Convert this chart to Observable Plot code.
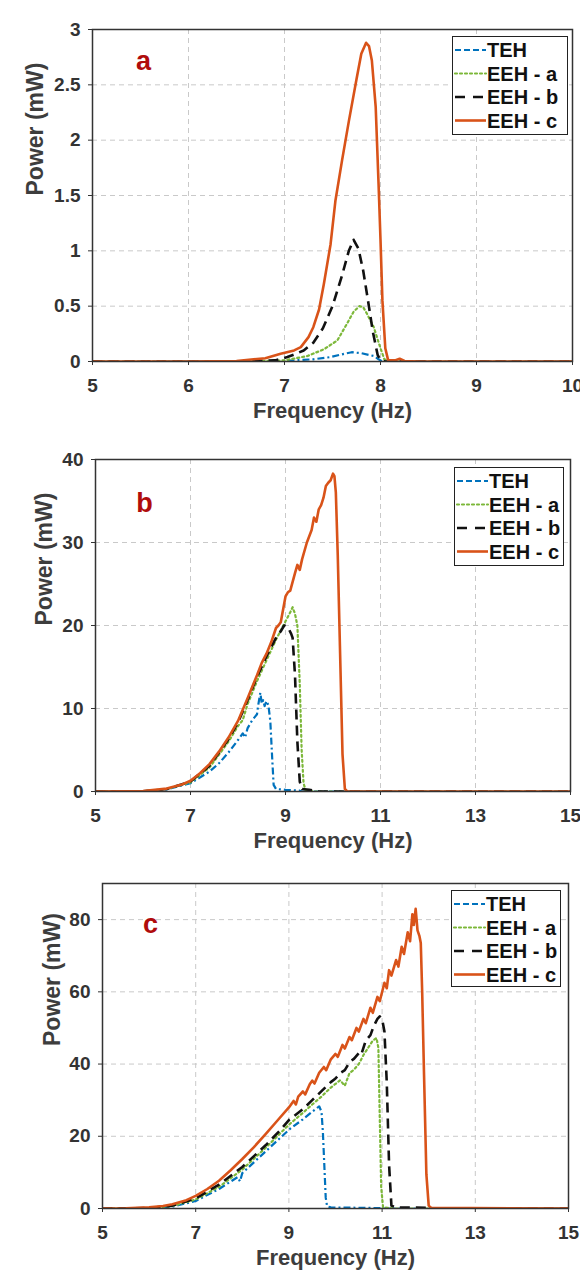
<!DOCTYPE html>
<html>
<head>
<meta charset="utf-8">
<script src="https://cdn.jsdelivr.net/npm/d3@7"></script>
<script src="https://cdn.jsdelivr.net/npm/@observablehq/plot@0.6"></script>
<style>
  body { margin: 0; background: #fff; font-family: "Liberation Sans", Arial, sans-serif; }
  #wrap { position: relative; width: 580px; height: 1279px; overflow: hidden; background: #fff; }
  .panel { position: absolute; left: 0; width: 580px; }
  .panel svg { display: block; }
  .legend { position: absolute; box-sizing: border-box; border: 1.6px solid #222; background: #fff; }
  .legend svg { display: block; }
  .shot { position: absolute; left: 23px; top: 5px; width: 557px; height: 420px; border-top: 1px solid #e4e4e4; border-left: 1px solid #e9e9e9; }
</style>
</head>
<body>
<div id="wrap"></div>
<script>
// ---------- series definitions ----------
const seriesNames = ["TEH", "EEH - a", "EEH - b", "EEH - c"];
const seriesColors = ["#0072BD", "#7DB83A", "#111111", "#D95319"];
const seriesDash = ["7,3,2,3", "2,3", "10,6", null];
const seriesWidth = [2.2, 2.2, 2.6, 2.6];

// ---------- panel a ----------
const aXTicks = [5, 6, 7, 8, 9, 10];
const aYTicks = [0, 0.5, 1, 1.5, 2, 2.5, 3];
const aTEH_f = [5, 6.5, 7.0, 7.3, 7.48, 7.6, 7.7, 7.8, 7.93, 7.98, 8.02, 10];
const aTEH_p = [0, 0, 0.005, 0.02, 0.04, 0.065, 0.084, 0.075, 0.05, 0.02, 0, 0];
const aEEHa_f = [5, 6.5, 7.0, 7.24, 7.41, 7.55, 7.65, 7.72, 7.78, 7.82, 7.86, 7.93, 7.97, 8.0, 8.04, 8.1, 10];
const aEEHa_p = [0, 0, 0.01, 0.05, 0.11, 0.19, 0.34, 0.45, 0.50, 0.49, 0.43, 0.31, 0.2, 0.12, 0.02, 0, 0];
const aEEHb_f = [5, 6.5, 6.9, 7.03, 7.12, 7.2, 7.3, 7.4, 7.5, 7.6, 7.67, 7.72, 7.77, 7.82, 7.87, 7.92, 7.97, 8.0, 8.05, 10];
const aEEHb_p = [0, 0, 0.01, 0.04, 0.07, 0.1, 0.17, 0.3, 0.5, 0.78, 1.0, 1.1, 1.02, 0.82, 0.55, 0.27, 0.06, 0.01, 0, 0];
const aEEHc_f = [5, 6, 6.5, 6.8, 6.96, 7.1, 7.17, 7.25, 7.3, 7.36, 7.41, 7.48, 7.53, 7.6, 7.67, 7.75, 7.8, 7.85, 7.88, 7.91, 7.95, 7.98, 8.0, 8.02, 8.05, 8.08, 8.15, 8.2, 8.25, 8.4, 10];
const aEEHc_p = [0, 0, 0.005, 0.03, 0.07, 0.1, 0.13, 0.22, 0.31, 0.47, 0.7, 1.06, 1.45, 1.82, 2.17, 2.55, 2.78, 2.88, 2.85, 2.72, 2.3, 1.6, 1.1, 0.55, 0.12, 0.01, 0.01, 0.025, 0.005, 0, 0];

// ---------- panel b ----------
const bXTicks = [5, 7, 9, 11, 13, 15];
const bYTicks = [0, 10, 20, 30, 40];
const bTEH_f = [5, 6, 6.5, 7.0, 7.4, 7.6, 7.8, 8.0, 8.1, 8.15, 8.2, 8.3, 8.4, 8.42, 8.47, 8.5, 8.53, 8.56, 8.6, 8.64, 8.68, 8.72, 8.75, 8.8, 9.0, 9.3, 9.35, 15];
const bTEH_p = [0, 0.02, 0.25, 1.0, 2.4, 3.4, 4.7, 6.2, 7.0, 6.5, 7.6, 8.6, 9.3, 10.2, 11.9, 10.6, 11.0, 10.3, 10.9, 10.4, 8.5, 4, 0.8, 0.3, 0.2, 0.1, 0, 0];
const bEEHa_f = [5, 6, 6.5, 7.0, 7.4, 7.8, 8.0, 8.1, 8.2, 8.4, 8.6, 8.8, 9.0, 9.1, 9.15, 9.2, 9.25, 9.3, 9.34, 9.38, 9.42, 9.6, 15];
const bEEHa_p = [0, 0.03, 0.3, 1.1, 2.9, 6.0, 7.9, 8.6, 10.5, 13.3, 15.8, 18.3, 20.5, 21.6, 22.2, 21.4, 20, 13, 5, 1, 0.2, 0, 0];
const bEEHb_f = [5, 6, 6.5, 7.0, 7.4, 7.8, 8.0, 8.2, 8.4, 8.6, 8.8, 8.9, 8.97, 9.05, 9.12, 9.15, 9.2, 9.25, 9.3, 9.35, 9.5, 9.7, 15];
const bEEHb_p = [0, 0.03, 0.3, 1.2, 3.1, 6.3, 8.3, 11, 13.8, 16.3, 18.5, 19.3, 20.0, 19.8, 19, 18.5, 14, 6, 1.2, 0.3, 0.2, 0, 0];
const bEEHc_f = [5, 6, 6.5, 6.8, 7.0, 7.2, 7.4, 7.6, 7.8, 8.0, 8.2, 8.4, 8.5, 8.6, 8.7, 8.8, 8.85, 8.9, 9.0, 9.05, 9.1, 9.2, 9.25, 9.3, 9.35, 9.45, 9.55, 9.6, 9.65, 9.7, 9.75, 9.8, 9.85, 9.9, 9.95, 10.0, 10.03, 10.06, 10.1, 10.15, 10.2, 10.25, 10.3, 15];
const bEEHc_p = [0, 0.05, 0.35, 0.8, 1.3, 2.2, 3.3, 4.8, 6.5, 8.5, 11.2, 14, 15.5, 16.6, 18, 19.7, 20, 20.4, 23.5, 24, 24.2, 26.3, 27.3, 26.7, 28, 30, 31.5, 33, 32.5, 34, 34.5, 35.4, 36.8, 37.2, 37.5, 38.3, 38, 36, 28.5, 16.5, 4.5, 0.3, 0, 0];

// ---------- panel c ----------
const cXTicks = [5, 7, 9, 11, 13, 15];
const cYTicks = [0, 20, 40, 60, 80];
const cTEH_f = [5, 6, 6.5, 7.0, 7.5, 7.9, 7.95, 8.0, 8.5, 9.0, 9.3, 9.5, 9.6, 9.65, 9.7, 9.73, 9.76, 9.79, 9.82, 9.9, 10.5, 11.0, 11.05, 15];
const cTEH_p = [0, 0.05, 0.5, 2.1, 5.4, 8.7, 7.5, 9.8, 15.8, 21.8, 24.7, 26.8, 27.8, 28.3, 26.8, 21, 12, 3, 0.6, 0.3, 0.2, 0.1, 0, 0];
const cEEHa_f = [5, 6, 6.5, 7.0, 7.5, 8.0, 8.5, 9.0, 9.3, 9.5, 9.7, 9.9, 10.0, 10.1, 10.2, 10.3, 10.4, 10.5, 10.6, 10.7, 10.8, 10.88, 10.92, 10.95, 10.98, 11.02, 11.1, 11.3, 15];
const cEEHa_p = [0, 0.1, 0.7, 2.5, 6, 10.8, 16.8, 23.2, 26.5, 28.8, 31, 33.5, 34.5, 35.5, 34, 37.5, 38.5, 40, 42.5, 44.5, 46.5, 47.2, 44.5, 25, 6, 0.4, 0.2, 0, 0];
const cEEHb_f = [5, 6, 6.5, 7.0, 7.5, 8.0, 8.5, 8.8, 9.0, 9.3, 9.5, 9.7, 9.9, 10.0, 10.1, 10.2, 10.3, 10.4, 10.5, 10.55, 10.65, 10.75, 10.82, 10.9, 10.95, 11.0, 11.05, 11.1, 11.15, 11.2, 11.3, 12.0, 12.05, 15];
const cEEHb_p = [0, 0.1, 0.8, 2.8, 6.6, 11.5, 17.5, 21.5, 24.5, 27.5, 30, 32.5, 35, 36, 37.5, 38.3, 40.5, 41.5, 43, 42.5, 46.5, 48, 50.5, 52.5, 53.2, 52.5, 49, 35, 12, 0.8, 0.3, 0.2, 0, 0];
const cEEHc_f = [5, 5.5, 6.0, 6.3, 6.5, 6.8, 7.0, 7.25, 7.5, 7.75, 8.0, 8.25, 8.5, 8.75, 9.0, 9.1, 9.15, 9.2, 9.3, 9.35, 9.45, 9.5, 9.55, 9.65, 9.75, 9.8, 9.9, 10.0, 10.05, 10.15, 10.2, 10.3, 10.35, 10.45, 10.5, 10.6, 10.65, 10.75, 10.8, 10.9, 10.95, 11.05, 11.1, 11.15, 11.2, 11.3, 11.35, 11.42, 11.47, 11.55, 11.6, 11.65, 11.68, 11.72, 11.76, 11.8, 11.83, 11.86, 11.9, 11.95, 12.0, 12.05, 15];
const cEEHc_p = [0, 0.05, 0.3, 0.7, 1.2, 2.3, 3.5, 5.4, 7.7, 10.6, 13.7, 17, 20.6, 24.3, 28, 29.8, 28.8, 31, 32.4, 31.6, 34.5, 35.4, 34.6, 37.6, 39.2, 38.3, 41.3, 42.8, 42, 45.3, 44.3, 47.5, 46.6, 50, 49, 52.5, 51.3, 55.6, 54.2, 58.6, 57.4, 62.5, 61, 66, 64.5, 68.8, 67, 72.5, 70.5, 76.5, 74, 81.5, 78.5, 83, 77, 75.5, 73.5, 60, 37, 9.5, 0.8, 0.2, 0];

// ---------- helpers ----------
const toRows = (f, p) => f.map((v, i) => ({f: v, p: p[i]}));
const fontFam = '"Liberation Sans", Arial, Helvetica, sans-serif';
const fmt = d => String(d);

function panel(cfg) {
  const series = cfg.series.map(([f, p]) => toRows(f, p));
  const lineMarks = series.map((rows, i) => Plot.line(rows, {
    x: "f", y: "p",
    stroke: seriesColors[i],
    strokeWidth: seriesWidth[i],
    strokeDasharray: seriesDash[i] || undefined,
    strokeLinejoin: "round",
    strokeLinecap: i === 1 ? "round" : "butt",
    clip: true
  }));
  return Plot.plot({
    width: 580,
    height: cfg.height,
    marginTop: cfg.mt, marginBottom: cfg.mb, marginLeft: cfg.ml, marginRight: cfg.mr,
    x: {domain: cfg.xDomain},
    y: {domain: cfg.yDomain},
    style: {fontFamily: fontFam, fontSize: "19px", fontWeight: "bold", color: "#333", background: "white", overflow: "visible"},
    marks: [
      Plot.gridX(cfg.xTicks, {stroke: "#c9c9c9", strokeOpacity: 1, strokeDasharray: "5,4", strokeWidth: 1}),
      Plot.gridY(cfg.yTicks, {stroke: "#c9c9c9", strokeOpacity: 1, strokeDasharray: "5,4", strokeWidth: 1}),
      Plot.axisX(cfg.xTicks, {tickSize: 4, tickPadding: 13, label: null, fontSize: 19, tickFormat: fmt}),
      Plot.axisY(cfg.yTicks, {tickSize: 4, tickPadding: 8, label: null, fontSize: 19, tickFormat: fmt}),
      ...lineMarks,
      Plot.frame({stroke: "#333", strokeWidth: 1.5}),
      Plot.text([cfg.tag], {frameAnchor: "top-left", dx: cfg.tagDx, dy: cfg.tagDy, text: d => d, fill: "#B00C0C", fontSize: 27, fontWeight: "bold", textAnchor: "middle"}),
      Plot.text(["Frequency (Hz)"], {frameAnchor: "bottom", dy: 56, text: d => d, fill: "#3d3d3d", fontSize: 22, fontWeight: "bold"}),
      Plot.text(["Power (mW)"], {frameAnchor: "left", dx: cfg.ytDx, rotate: -90, text: d => d, fill: "#3d3d3d", fontSize: 23, fontWeight: "bold"})
    ]
  });
}

function legend(left, top, w, h) {
  const div = document.createElement("div");
  div.className = "legend";
  Object.assign(div.style, {left: left + "px", top: top + "px", width: w + "px", height: h + "px"});
  const svg = d3.select(div).append("svg").attr("width", w - 3).attr("height", h - 3);
  seriesNames.forEach((name, i) => {
    const y = 13 + i * 23.5;
    svg.append("line").attr("x1", 2).attr("x2", 33).attr("y1", y).attr("y2", y)
      .attr("stroke", seriesColors[i]).attr("stroke-width", seriesWidth[i])
      .attr("stroke-dasharray", seriesDash[i] === "7,3,2,3" ? "6,3" : (seriesDash[i] === "10,6" ? "10,8" : seriesDash[i]))
      .attr("stroke-linecap", i === 1 ? "round" : "butt");
    svg.append("text").attr("x", 34).attr("y", y).attr("dy", "0.36em")
      .attr("font-family", fontFam).attr("font-weight", "bold").attr("font-size", 20)
      .attr("fill", "#111").text(name);
  });
  return div;
}

const wrap = document.getElementById("wrap");
const shot = document.createElement("div"); shot.className = "shot"; wrap.appendChild(shot);

const panels = [
  {top: 0, height: 425, mt: 29, mb: 64, ml: 92, mr: 8, xDomain: [5, 10], yDomain: [0, 3], xTicks: aXTicks, yTicks: aYTicks,
   tag: "a", tagDx: 51, tagDy: 21, ytDx: -57,
   series: [[aTEH_f, aTEH_p], [aEEHa_f, aEEHa_p], [aEEHb_f, aEEHb_p], [aEEHc_f, aEEHc_p]],
   leg: [452, 36, 116, 99]},
  {top: 425, height: 435, mt: 34, mb: 69, ml: 95, mr: 10, xDomain: [5, 15], yDomain: [0, 40], xTicks: bXTicks, yTicks: bYTicks,
   tag: "b", tagDx: 49, tagDy: 33, ytDx: -51,
   series: [[bTEH_f, bTEH_p], [bEEHa_f, bEEHa_p], [bEEHb_f, bEEHb_p], [bEEHc_f, bEEHc_p]],
   leg: [454, 467, 110, 99]},
  {top: 860, height: 419, mt: 23, mb: 71, ml: 102, mr: 12, xDomain: [5, 15], yDomain: [0, 90], xTicks: cXTicks, yTicks: cYTicks,
   tag: "c", tagDx: 48, tagDy: 30, ytDx: -50,
   series: [[cTEH_f, cTEH_p], [cEEHa_f, cEEHa_p], [cEEHb_f, cEEHb_p], [cEEHc_f, cEEHc_p]],
   leg: [451, 890, 110, 97]}
];

panels.forEach(cfg => {
  const holder = document.createElement("div");
  holder.className = "panel";
  holder.style.top = cfg.top + "px";
  holder.style.height = cfg.height + "px";
  holder.appendChild(panel(cfg));
  wrap.appendChild(holder);
  wrap.appendChild(legend(...cfg.leg));
});
</script>
</body>
</html>
